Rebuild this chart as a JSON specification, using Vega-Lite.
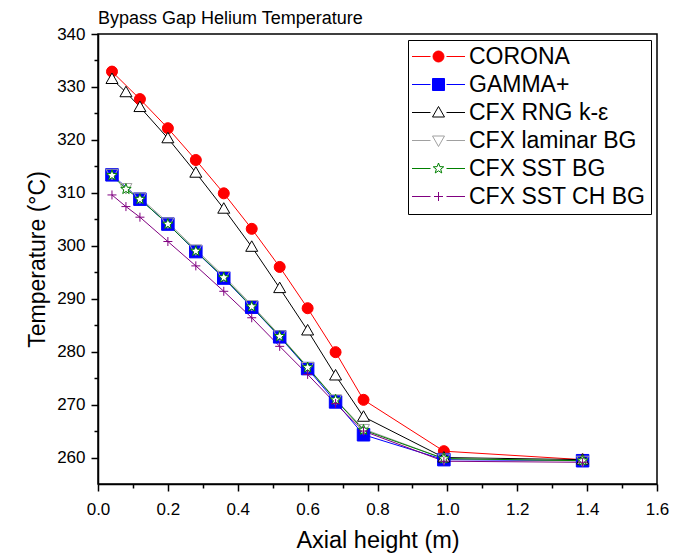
{
  "$schema": "https://vega.github.io/schema/vega-lite/v6.json",
  "width": 559,
  "height": 450,
  "autosize": {"type": "none"},
  "padding": {"left": 98, "top": 34, "right": 25, "bottom": 69},
  "background": "white",
  "title": {"text": "Bypass Gap Helium Temperature", "anchor": "start", "frame": "group", "font": "Liberation Sans", "fontSize": 18, "fontWeight": "normal", "color": "black", "baseline": "alphabetic", "offset": 8, "dy": 25},
  "config": {"view": {"stroke": "black", "strokeWidth": 1.5}, "font": "Liberation Sans"},
  "data": {"values": [
    {"series": "CORONA", "x": 0.04, "y": 332.9}, {"series": "CORONA", "x": 0.12, "y": 327.7}, {"series": "CORONA", "x": 0.2, "y": 322.2}, {"series": "CORONA", "x": 0.28, "y": 316.2}, {"series": "CORONA", "x": 0.36, "y": 309.9}, {"series": "CORONA", "x": 0.44, "y": 303.2}, {"series": "CORONA", "x": 0.52, "y": 296.0}, {"series": "CORONA", "x": 0.6, "y": 288.2}, {"series": "CORONA", "x": 0.68, "y": 279.9}, {"series": "CORONA", "x": 0.76, "y": 270.9}, {"series": "CORONA", "x": 0.99, "y": 261.2}, {"series": "CORONA", "x": 1.387, "y": 259.6},
    {"series": "GAMMA+", "x": 0.04, "y": 313.4}, {"series": "GAMMA+", "x": 0.12, "y": 308.8}, {"series": "GAMMA+", "x": 0.2, "y": 304.1}, {"series": "GAMMA+", "x": 0.28, "y": 298.9}, {"series": "GAMMA+", "x": 0.36, "y": 293.9}, {"series": "GAMMA+", "x": 0.44, "y": 288.4}, {"series": "GAMMA+", "x": 0.52, "y": 282.8}, {"series": "GAMMA+", "x": 0.6, "y": 276.8}, {"series": "GAMMA+", "x": 0.68, "y": 270.5}, {"series": "GAMMA+", "x": 0.76, "y": 264.3}, {"series": "GAMMA+", "x": 0.99, "y": 259.6}, {"series": "GAMMA+", "x": 1.387, "y": 259.4},
    {"series": "CFX RNG k-ε", "x": 0.04, "y": 331.5}, {"series": "CFX RNG k-ε", "x": 0.08, "y": 329.0}, {"series": "CFX RNG k-ε", "x": 0.12, "y": 326.2}, {"series": "CFX RNG k-ε", "x": 0.2, "y": 320.3}, {"series": "CFX RNG k-ε", "x": 0.28, "y": 313.8}, {"series": "CFX RNG k-ε", "x": 0.36, "y": 307.0}, {"series": "CFX RNG k-ε", "x": 0.44, "y": 299.8}, {"series": "CFX RNG k-ε", "x": 0.52, "y": 292.0}, {"series": "CFX RNG k-ε", "x": 0.6, "y": 284.0}, {"series": "CFX RNG k-ε", "x": 0.68, "y": 275.5}, {"series": "CFX RNG k-ε", "x": 0.76, "y": 267.7}, {"series": "CFX RNG k-ε", "x": 0.99, "y": 260.0}, {"series": "CFX RNG k-ε", "x": 1.387, "y": 259.6},
    {"series": "CFX laminar BG", "x": 0.04, "y": 313.6}, {"series": "CFX laminar BG", "x": 0.08, "y": 310.9}, {"series": "CFX laminar BG", "x": 0.12, "y": 309.1}, {"series": "CFX laminar BG", "x": 0.2, "y": 304.4}, {"series": "CFX laminar BG", "x": 0.28, "y": 299.3}, {"series": "CFX laminar BG", "x": 0.36, "y": 294.3}, {"series": "CFX laminar BG", "x": 0.44, "y": 288.8}, {"series": "CFX laminar BG", "x": 0.52, "y": 283.1}, {"series": "CFX laminar BG", "x": 0.6, "y": 277.1}, {"series": "CFX laminar BG", "x": 0.68, "y": 271.0}, {"series": "CFX laminar BG", "x": 0.76, "y": 265.4}, {"series": "CFX laminar BG", "x": 0.99, "y": 259.8}, {"series": "CFX laminar BG", "x": 1.387, "y": 259.4},
    {"series": "CFX SST BG", "x": 0.04, "y": 313.3}, {"series": "CFX SST BG", "x": 0.08, "y": 310.7}, {"series": "CFX SST BG", "x": 0.12, "y": 308.8}, {"series": "CFX SST BG", "x": 0.2, "y": 304.1}, {"series": "CFX SST BG", "x": 0.28, "y": 299.0}, {"series": "CFX SST BG", "x": 0.36, "y": 294.0}, {"series": "CFX SST BG", "x": 0.44, "y": 288.5}, {"series": "CFX SST BG", "x": 0.52, "y": 282.9}, {"series": "CFX SST BG", "x": 0.6, "y": 277.0}, {"series": "CFX SST BG", "x": 0.68, "y": 270.9}, {"series": "CFX SST BG", "x": 0.76, "y": 265.2}, {"series": "CFX SST BG", "x": 0.99, "y": 259.8}, {"series": "CFX SST BG", "x": 1.387, "y": 259.4},
    {"series": "CFX SST CH BG", "x": 0.04, "y": 309.6}, {"series": "CFX SST CH BG", "x": 0.08, "y": 307.4}, {"series": "CFX SST CH BG", "x": 0.12, "y": 305.4}, {"series": "CFX SST CH BG", "x": 0.2, "y": 300.8}, {"series": "CFX SST CH BG", "x": 0.28, "y": 296.2}, {"series": "CFX SST CH BG", "x": 0.36, "y": 291.4}, {"series": "CFX SST CH BG", "x": 0.44, "y": 286.4}, {"series": "CFX SST CH BG", "x": 0.52, "y": 281.0}, {"series": "CFX SST CH BG", "x": 0.6, "y": 275.7}, {"series": "CFX SST CH BG", "x": 0.68, "y": 270.2}, {"series": "CFX SST CH BG", "x": 0.76, "y": 265.0}, {"series": "CFX SST CH BG", "x": 0.99, "y": 259.3}, {"series": "CFX SST CH BG", "x": 1.387, "y": 259.1}
  ]},
  "layer": [
    {
      "mark": {"type": "line", "strokeWidth": 1},
      "encoding": {
        "x": {"field": "x", "type": "quantitative", "scale": {"domain": [0, 1.6], "nice": false, "zero": false},
          "axis": {"values": [0, 0.2, 0.4, 0.6, 0.8, 1.0, 1.2, 1.4, 1.6], "format": ".1f", "title": "Axial height (m)", "titleFont": "Liberation Sans", "titleFontSize": 23.5, "titleFontWeight": "normal", "titleColor": "black", "titlePadding": 11, "labelFont": "Liberation Sans", "labelFontSize": 17, "labelColor": "black", "labelPadding": 10, "labelFlush": false, "labelOverlap": false, "tickSize": 7, "tickWidth": 1.5, "tickColor": "black", "domainColor": "black", "domainWidth": 1.5, "grid": false}},
        "y": {"field": "y", "type": "quantitative", "scale": {"domain": [255, 340], "nice": false, "zero": false},
          "axis": {"values": [260, 270, 280, 290, 300, 310, 320, 330, 340], "title": "Temperature (°C)", "titleFont": "Liberation Sans", "titleFontSize": 23, "titleFontWeight": "normal", "titleColor": "black", "titlePadding": 7, "labelFont": "Liberation Sans", "labelFontSize": 17, "labelColor": "black", "labelPadding": 6, "labelFlush": false, "labelOverlap": false, "tickSize": 7, "tickWidth": 1.5, "tickColor": "black", "domainColor": "black", "domainWidth": 1.5, "grid": false}},
        "color": {"field": "series", "type": "nominal", "legend": null,
          "scale": {"domain": ["CORONA", "GAMMA+", "CFX RNG k-ε", "CFX laminar BG", "CFX SST BG", "CFX SST CH BG"], "range": ["#ff0000", "#0000ff", "#000000", "#a0a0a0", "#008000", "#800080"]}}
      }
    },
    {
      "mark": {"type": "point", "size": 100, "strokeWidth": 1, "opacity": 1, "fillOpacity": 1},
      "encoding": {
        "x": {"field": "x", "type": "quantitative", "axis": {"orient": "bottom", "values": [0.1, 0.3, 0.5, 0.7, 0.9, 1.1, 1.3, 1.5], "labels": false, "domain": false, "tickSize": 4, "tickWidth": 1.5, "tickColor": "black", "title": null, "grid": false}},
        "y": {"field": "y", "type": "quantitative", "axis": {"orient": "left", "values": [265, 275, 285, 295, 305, 315, 325, 335], "labels": false, "domain": false, "tickSize": 4, "tickWidth": 1.5, "tickColor": "black", "title": null, "grid": false}},
        "shape": {"field": "series", "type": "nominal", "legend": null,
          "scale": {"domain": ["CORONA", "GAMMA+", "CFX RNG k-ε", "CFX laminar BG", "CFX SST BG", "CFX SST CH BG"],
            "range": ["M-1.1,0A1.1,1.1,0,1,0,1.1,0A1.1,1.1,0,1,0,-1.1,0Z", "M-1.25,-1.25H1.25V1.25H-1.25Z", "M0,-1.2L1.2,0.9L-1.2,0.9Z", "M0,1.2L1.2,-0.9L-1.2,-0.9Z", "M0,-1.1L0.272,-0.374L1.046,-0.34L0.439,0.143L0.647,0.89L0,0.462L-0.647,0.89L-0.439,0.143L-1.046,-0.34L-0.272,-0.374Z", "M-0.9,0H0.9M0,-0.9V0.9"]}},
        "fill": {"field": "series", "type": "nominal", "legend": null,
          "scale": {"domain": ["CORONA", "GAMMA+", "CFX RNG k-ε", "CFX laminar BG", "CFX SST BG", "CFX SST CH BG"], "range": ["#ff0000", "#0000ff", "#ffffff", "transparent", "#ffffff", "transparent"]}},
        "stroke": {"field": "series", "type": "nominal", "legend": null,
          "scale": {"domain": ["CORONA", "GAMMA+", "CFX RNG k-ε", "CFX laminar BG", "CFX SST BG", "CFX SST CH BG"], "range": ["#ff0000", "#0000ff", "#000000", "#a0a0a0", "#008000", "#800080"]}}
      }
    },
    {
      "mark": {"type": "point", "size": 100, "strokeWidth": 1, "opacity": 0},
      "encoding": {
        "x": {"field": "x", "type": "quantitative", "axis": null},
        "y": {"field": "y", "type": "quantitative", "axis": null},
        "shape": {"field": "series", "type": "nominal",
          "scale": {"domain": ["CORONA", "GAMMA+", "CFX RNG k-ε", "CFX laminar BG", "CFX SST BG", "CFX SST CH BG"],
            "range": ["M-1.1,0A1.1,1.1,0,1,0,1.1,0A1.1,1.1,0,1,0,-1.1,0ZM-5.3,0H-1.6M1.6,0H5.3", "M-1.2,-1.2H1.2V1.2H-1.2ZM-5.3,0H-1.6M1.6,0H5.3", "M0,-1.2L1.2,0.9L-1.2,0.9ZM-5.3,0H-1.6M1.6,0H5.3", "M0,1.2L1.2,-0.9L-1.2,-0.9ZM-5.3,0H-1.6M1.6,0H5.3", "M0,-1.1L0.272,-0.374L1.046,-0.34L0.439,0.143L0.647,0.89L0,0.462L-0.647,0.89L-0.439,0.143L-1.046,-0.34L-0.272,-0.374ZM-5.3,0H-1.6M1.6,0H5.3", "M-0.9,0H0.9M0,-0.9V0.9M-5.3,0H-1.6M1.6,0H5.3"]},
          "legend": {"title": null, "orient": "top-right", "offset": 6, "padding": 5, "strokeColor": "black", "fillColor": "white", "labelFont": "Liberation Sans", "labelFontSize": 23, "labelColor": "black", "labelLimit": 400, "rowPadding": 4, "symbolSize": 100, "symbolStrokeWidth": 1, "symbolOpacity": 1, "symbolOffset": 14, "labelOffset": 19}},
        "fill": {"field": "series", "type": "nominal",
          "scale": {"domain": ["CORONA", "GAMMA+", "CFX RNG k-ε", "CFX laminar BG", "CFX SST BG", "CFX SST CH BG"], "range": ["#ff0000", "#0000ff", "#ffffff", "#ffffff", "#ffffff", "transparent"]}},
        "stroke": {"field": "series", "type": "nominal",
          "scale": {"domain": ["CORONA", "GAMMA+", "CFX RNG k-ε", "CFX laminar BG", "CFX SST BG", "CFX SST CH BG"], "range": ["#ff0000", "#0000ff", "#000000", "#a0a0a0", "#008000", "#800080"]}}
      }
    }
  ],
  "resolve": {"axis": {"x": "independent", "y": "independent"}, "scale": {"shape": "independent", "fill": "independent", "stroke": "independent"}}
}
